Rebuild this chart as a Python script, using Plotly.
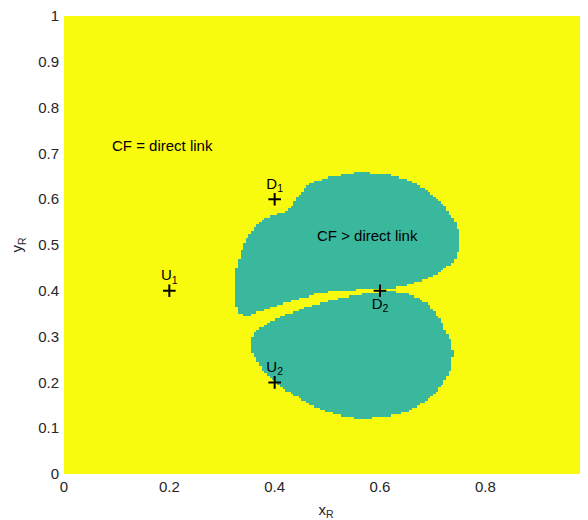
import numpy as np
import plotly.graph_objects as go

# Region boundaries where CF > direct link
upper_x = [0.4634, 0.4957, 0.5280, 0.5565, 0.6059, 0.6515, 0.6895, 0.7198, 0.7426, 0.7521,
           0.7521, 0.7388, 0.7141, 0.6819, 0.6515, 0.6192, 0.6002, 0.5812, 0.5242, 0.4824,
           0.4615, 0.4330, 0.3970, 0.3818, 0.3476, 0.3305, 0.3248, 0.3248, 0.3305, 0.3400,
           0.3533, 0.3685, 0.3875, 0.4141, 0.4330, 0.4425]
upper_y = [0.6310, 0.6463, 0.6528, 0.6583, 0.6566, 0.6419, 0.6201, 0.5873, 0.5509, 0.5153,
           0.4934, 0.4629, 0.4410, 0.4236, 0.4127, 0.4055, 0.4028, 0.4039, 0.4007, 0.3952,
           0.3865, 0.3788, 0.3653, 0.3581, 0.3450, 0.3493, 0.3755, 0.4345, 0.4629, 0.5000,
           0.5262, 0.5480, 0.5611, 0.5699, 0.5830, 0.6048]
lower_x = [0.3571, 0.3666, 0.3970, 0.4615, 0.5242, 0.5812, 0.6192, 0.6515, 0.6895, 0.7141,
           0.7331, 0.7388, 0.7331, 0.7141, 0.6895, 0.6515, 0.6059, 0.5565, 0.5375, 0.4995,
           0.4615, 0.4292, 0.3989, 0.3723, 0.3571]
lower_y = [0.2991, 0.3144, 0.3362, 0.3653, 0.3843, 0.3952, 0.3996, 0.3941, 0.3734, 0.3362,
           0.2926, 0.2642, 0.2271, 0.1900, 0.1616, 0.1354, 0.1234, 0.1212, 0.1245, 0.1354,
           0.1550, 0.1769, 0.2009, 0.2336, 0.2664]

# Node positions
node_names = ["U<sub>1</sub>", "U<sub>2</sub>", "D<sub>1</sub>", "D<sub>2</sub>"]
node_x = [0.2, 0.4, 0.4, 0.6]
node_y = [0.4, 0.2, 0.6, 0.4]
label_pos = ["top center", "top center", "top center", "bottom center"]

grid_step = 0.005
xs = np.arange(0, 1.0, grid_step) + grid_step / 2
ys = np.arange(0, 1.0, grid_step) + grid_step / 2
X, Y = np.meshgrid(xs, ys)


def inside(px, py, X, Y):
    px = np.asarray(px); py = np.asarray(py)
    res = np.zeros(X.shape, dtype=bool)
    n = len(px)
    j = n - 1
    for i in range(n):
        xi, yi, xj, yj = px[i], py[i], px[j], py[j]
        cond = ((yi > Y) != (yj > Y))
        xint = (xj - xi) * (Y - yi) / (yj - yi + 1e-12) + xi
        res ^= cond & (X < xint)
        j = i
    return res


Z = (inside(upper_x, upper_y, X, Y) | inside(lower_x, lower_y, X, Y)).astype(float)

yellow = "#F9FB0E"
teal = "#3AB89E"
FONT = "Liberation Sans, Arial"

fig = go.Figure()
fig.add_trace(go.Heatmap(x=xs, y=ys, z=Z, zmin=0, zmax=1,
                         colorscale=[[0, yellow], [1, teal]], showscale=False,
                         hoverinfo="skip"))
fig.add_trace(go.Scatter(x=node_x, y=node_y, mode="markers+text",
                         marker=dict(symbol="cross-thin", size=9,
                                     line=dict(color="black", width=2)),
                         text=node_names, textposition=label_pos,
                         textfont=dict(family=FONT, size=15, color="black"),
                         showlegend=False))

fig.add_annotation(x=0.087, y=0.718, text="CF = direct link", showarrow=False,
                   xanchor="left", font=dict(family=FONT, size=15, color="black"))
fig.add_annotation(x=0.476, y=0.52, text="CF > direct link", showarrow=False,
                   xanchor="left", font=dict(family=FONT, size=15, color="black"))

fig.update_layout(
    width=580, height=512,
    margin=dict(l=56, r=0, t=8, b=46),
    paper_bgcolor="white", plot_bgcolor="white",
    font=dict(family=FONT, size=15, color="#262626"),
    showlegend=False,
)
fig.update_xaxes(range=[0, 0.995], tickvals=[0, 0.2, 0.4, 0.6, 0.8],
                 ticktext=["0", "0.2", "0.4", "0.6", "0.8"], automargin=False,
                 ticklabeloverflow="allow", ticklabelstandoff=2,
                 showgrid=False, zeroline=False, showline=False, ticks="",
                 title=dict(text="x<sub>R</sub>", standoff=10, font=dict(size=15)))
fig.update_yaxes(range=[0, 1], tickvals=[i / 10 for i in range(11)],
                 ticktext=["0", "0.1", "0.2", "0.3", "0.4", "0.5", "0.6", "0.7", "0.8", "0.9", "1"],
                 automargin=False, ticklabeloverflow="allow", ticklabelstandoff=4,
                 showgrid=False, zeroline=False, showline=False, ticks="",
                 title=dict(text="y<sub>R</sub>", standoff=11, font=dict(size=15)))

fig.write_html("out.html")
